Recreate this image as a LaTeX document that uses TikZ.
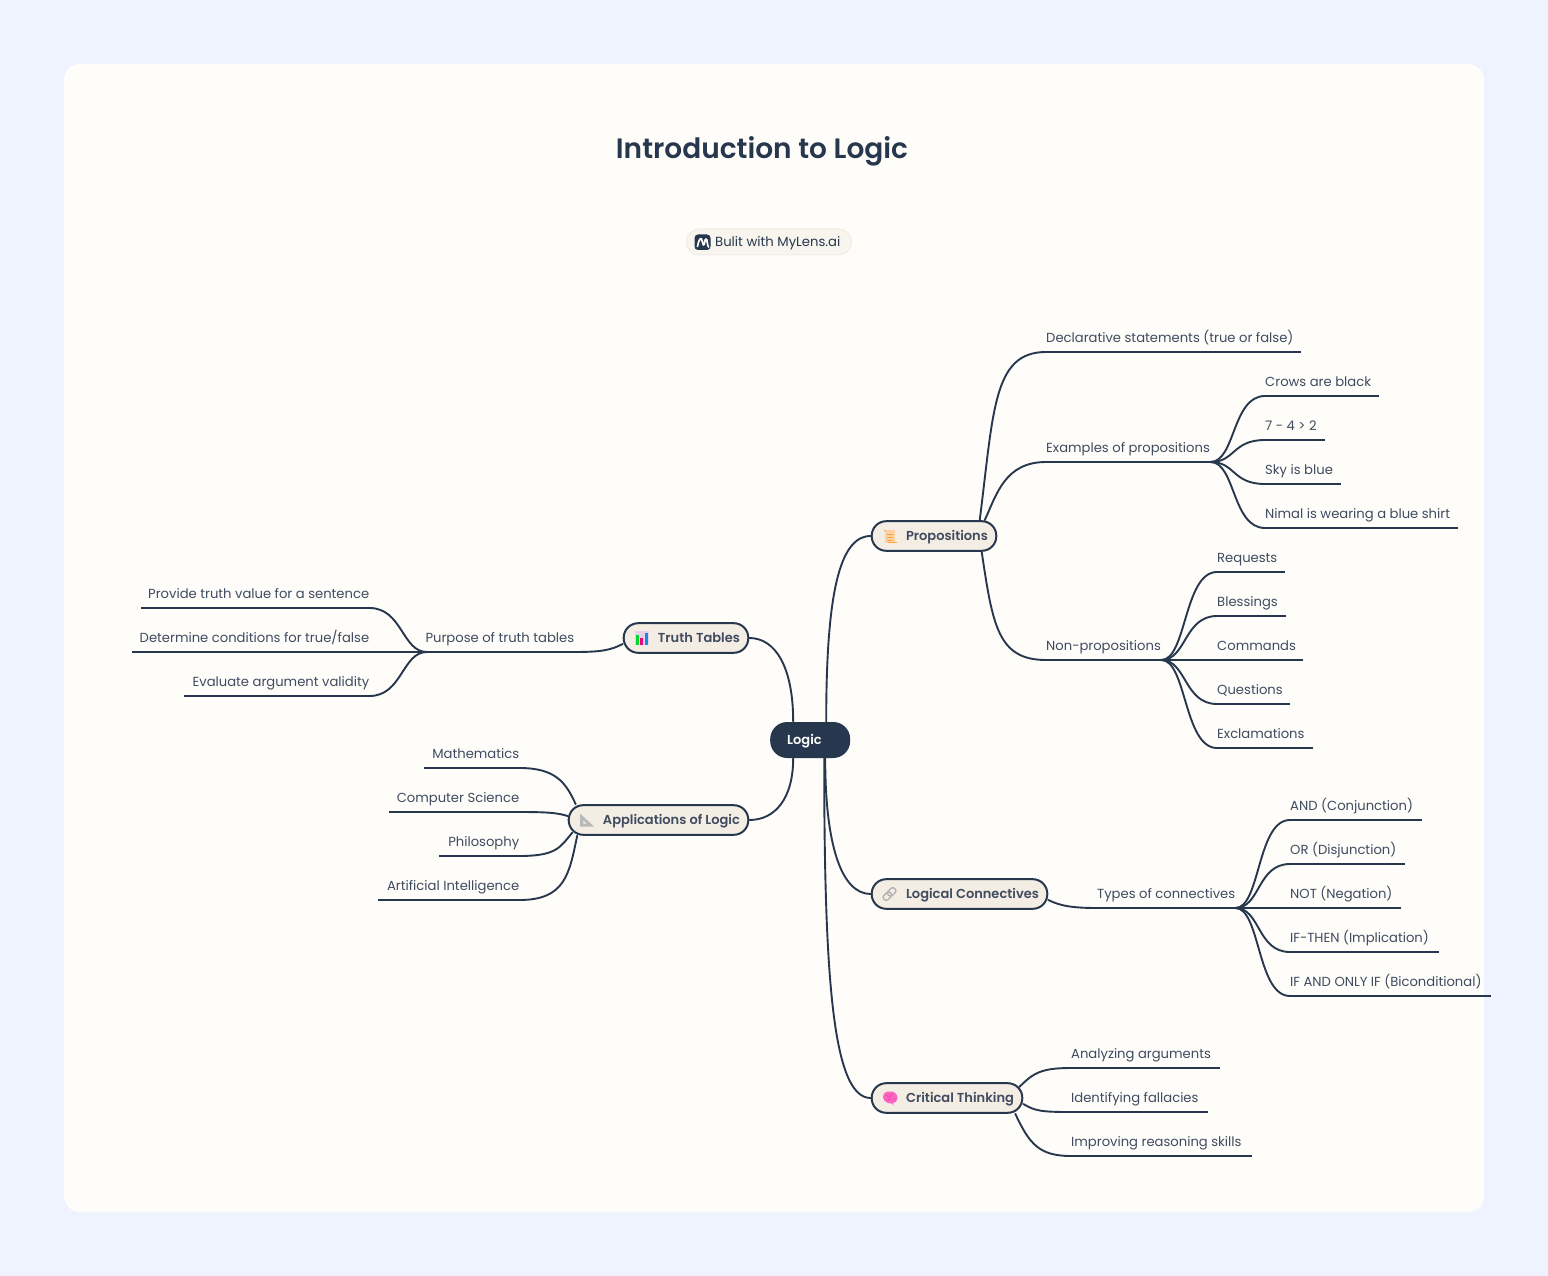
\documentclass[tikz,border=0pt]{standalone}
\usepackage{fontspec}
\setmainfont{Poppins}
\newfontfamily\semif{Poppins SemiBold}
\definecolor{pagebg}{HTML}{EEF3FF}
\definecolor{cardbg}{HTML}{FFFDFA}
\definecolor{ink}{HTML}{27374D}
\definecolor{inksoft}{HTML}{3F4B5F}
\definecolor{pillbg}{HTML}{F4EDE4}
\definecolor{badgebg}{HTML}{F8F4EE}
\definecolor{badgeln}{HTML}{F1ECE4}
\definecolor{brainpink}{HTML}{FF62C0}
\definecolor{brainline}{HTML}{E83FA0}
\tikzset{
  edge/.style={draw=ink,line width=1.9pt,line cap=round},
  rule/.style={draw=ink,line width=2pt,line cap=butt},
  leaf/.style={inner xsep=8pt,inner ysep=7.5pt,text height=11pt,text depth=2pt,font=\fontsize{13.15}{15}\selectfont,text=inksoft},
  branch/.style={draw=ink,line width=2pt,fill=pillbg,rounded corners=14.5pt,minimum height=29.6pt,inner sep=0pt,text height=11.5pt,text depth=2pt,font=\semif\fontsize{13}{15}\selectfont,text=inksoft},
  root/.style={fill=ink,rounded corners=17pt,minimum height=36pt,inner sep=0pt,text height=11.5pt,text depth=2pt,font=\semif\fontsize{13}{15}\selectfont,text=white},
}
\newcommand{\leafR}[5]{% name x0 x1 y text
  \pgfmathsetmacro\lw{#3-#2-16}
  \node[leaf,anchor=south west] (#1) at (#2,#4) {\hbox to \lw pt{#5\hss}};
  \draw[rule] ([xshift=8pt]#1.south west) -- (#1.south east);}
\newcommand{\leafL}[5]{%
  \pgfmathsetmacro\lw{#3-#2-16}
  \node[leaf,anchor=south west] (#1) at (#2,#4) {\hbox to \lw pt{\hss #5}};
  \draw[rule] (#1.south west) -- ([xshift=-8pt]#1.south east);}
\newcommand{\pill}[5]{% name x0 x1 y text
  \pgfmathsetmacro\lw{#3-#2-1.4}
  \pgfmathsetmacro\lx{#2-0.3}
  \node[branch,anchor=west] (#1) at (\lx,#4) {\hbox to \lw pt{\hss #5\kern 8.4pt}};}
\begin{document}
\begin{tikzpicture}[x=1pt,y=-1pt]
\useasboundingbox (0,0) rectangle (1548,1276);
\fill[pagebg] (0,0) rectangle (1548,1276);
\fill[cardbg,rounded corners=16pt] (64,64) rectangle (1484,1212);
\node[font=\semif\fontsize{28}{32}\selectfont,text=ink] (title) at (762,151) {Introduction to Logic};
\node[draw=badgeln,line width=1pt,fill=badgebg,rounded corners=13pt,minimum width=165pt,minimum height=26pt,inner sep=0pt,anchor=west] (badge) at (686,242) {};
\node[anchor=west,inner sep=0pt,font=\fontsize{13.2}{15}\selectfont,text=ink] (badgetext) at (715,243) {Bulit with MyLens.ai};
% logo
\fill[ink,rounded corners=3.5pt] (694.5,234.5) rectangle (710.5,250);
\draw[white,line width=1.7pt,line cap=round,line join=round] (697.5,246.5) .. controls (698.5,240) and (700.5,238) .. (701.5,239) .. controls (703,241) and (702.5,245) .. (703.5,245) .. controls (705,245) and (704.5,239) .. (706,239) .. controls (707.5,239) and (707,245) .. (708.5,247);

\node[root,minimum width=80pt,anchor=west] (logic) at (770,740) {\hbox to 80pt{\hspace{17pt}Logic\hss}};

\pill{props}{871}{997}{536}{Propositions}
\pill{tt}{623}{749}{638}{Truth Tables}
\pill{apps}{568}{749}{820}{Applications of Logic}
\pill{conn}{871}{1048}{894}{Logical Connectives}
\pill{crit}{871}{1023}{1098}{Critical Thinking}

\draw[edge] ([xshift=16pt]logic.north) .. controls +(0,-125) and +(-32,0) .. (props.west);
\draw[edge] ([xshift=15pt]logic.south) .. controls +(0,85) and +(-30,0) .. (conn.west);
\draw[edge] ([xshift=14pt]logic.south) .. controls +(0,220) and +(-38,0) .. (crit.west);
\draw[edge] ([xshift=-17pt]logic.north) .. controls +(0,-55) and +(26,0) .. (tt.east);
\draw[edge] ([xshift=-17pt]logic.south) .. controls +(0,40) and +(26,0) .. (apps.east);

% Propositions
\leafR{decl}{1038}{1301}{352}{Declarative statements (true or false)}
\leafR{exam}{1038}{1217}{462}{Examples of propositions}
\leafR{nonp}{1038}{1169}{660}{Non-propositions}
\draw[edge] ([xshift=109pt]props.north west) .. controls +(14,-110) and +(-53,0) .. ([xshift=8pt]decl.south west);
\draw[edge] ([xshift=114pt]props.north west) .. controls +(12,-26) and +(-41,0) .. ([xshift=8pt]exam.south west);
\draw[edge] ([xshift=111pt]props.south west) .. controls +(11,74) and +(-48,0) .. ([xshift=8pt]nonp.south west);

\leafR{crow}{1257}{1379}{396}{Crows are black}
\leafR{seven}{1257}{1325}{440}{7 - 4 > 2}
\leafR{sky}{1257}{1341}{484}{Sky is blue}
\leafR{nimal}{1257}{1458}{528}{Nimal is wearing a blue shirt}
\foreach \t in {crow,seven,sky,nimal}
  \draw[edge] ([xshift=-7pt]exam.south east) .. controls +(25,0) and +(-33,0) .. ([xshift=8pt]\t.south west);

\leafR{req}{1209}{1285}{572}{Requests}
\leafR{ble}{1209}{1286}{616}{Blessings}
\leafR{com}{1209}{1303}{660}{Commands}
\leafR{que}{1209}{1290}{704}{Questions}
\leafR{exc}{1209}{1313}{748}{Exclamations}
\foreach \t in {req,ble,com,que,exc}
  \draw[edge] ([xshift=-8pt]nonp.south east) .. controls +(25,0) and +(-33,0) .. ([xshift=8pt]\t.south west);

% Logical connectives
\leafR{types}{1089}{1242}{908}{Types of connectives}
\draw[edge] ([yshift=-6pt]conn.east) .. controls +(12,6) and +(-24,0) .. ([xshift=8pt]types.south west);
\leafR{and}{1282}{1422}{820}{AND (Conjunction)}
\leafR{or}{1282}{1405}{864}{OR (Disjunction)}
\leafR{not}{1282}{1401}{908}{NOT (Negation)}
\leafR{ift}{1282}{1439}{952}{IF-THEN (Implication)}
\leafR{iff}{1282}{1491}{996}{IF AND ONLY IF (Biconditional)}
\foreach \t in {and,or,not,ift,iff}
  \draw[edge] ([xshift=-7pt]types.south east) .. controls +(25,0) and +(-33,0) .. ([xshift=8pt]\t.south west);

% Critical thinking
\leafR{ana}{1063}{1220}{1068}{Analyzing arguments}
\leafR{ide}{1063}{1208}{1112}{Identifying fallacies}
\leafR{imp}{1063}{1252}{1156}{Improving reasoning skills}
\draw[edge] ([xshift=-4pt,yshift=11pt]crit.east) .. controls +(14,-14) and +(-30,0) .. ([xshift=8pt]ana.south west);
\draw[edge] ([yshift=-6pt]crit.east) .. controls +(12,7) and +(-30,0) .. ([xshift=8pt]ide.south west);
\draw[edge] ([xshift=-8pt]crit.south east) .. controls +(14,30) and +(-32,0) .. ([xshift=8pt]imp.south west);

% Truth tables
\leafL{purp}{417}{582}{652}{Purpose of truth tables}
\draw[edge] ([yshift=-6pt]tt.west) .. controls +(-12,6) and +(28,0) .. ([xshift=-8pt]purp.south east);
\leafL{prov}{141}{377}{608}{Provide truth value for a sentence}
\leafL{det}{132}{377}{652}{Determine conditions for true/false}
\leafL{eva}{184}{377}{696}{Evaluate argument validity}
\foreach \t in {prov,det,eva}
  \draw[edge] ([xshift=10pt]purp.south west) .. controls +(-25,0) and +(33,0) .. ([xshift=-8pt]\t.south east);

% Applications
\leafL{math}{424}{527}{768}{Mathematics}
\leafL{cs}{389}{527}{812}{Computer Science}
\leafL{phil}{439}{527}{856}{Philosophy}
\leafL{ai}{378}{527}{900}{Artificial Intelligence}
\draw[edge] ([xshift=8pt]apps.north west) .. controls +(-10,-22) and +(36,0) .. ([xshift=-8pt]math.south east);
\draw[edge] ([yshift=4pt]apps.west) .. controls +(-10,-3) and +(30,0) .. ([xshift=-8pt]cs.south east);
\draw[edge] ([xshift=4.5pt,yshift=3pt]apps.south west) .. controls +(-12,14) and +(38,0) .. ([xshift=-8pt]phil.south east);
\draw[edge] ([xshift=9.5pt]apps.south west) .. controls +(-8,38) and +(46,0) .. ([xshift=-8pt]ai.south east);

% icons
% scroll
\fill[orange!35!white] (885,530) rectangle (895,543);
\fill[orange!75!white] (883.5,529.5) rectangle (886,531);
\fill[orange!70!white] (888,541.5) rectangle (897,543);
\draw[orange!75!white,line width=1pt] (887,534.5) -- (893,534.5) (887,537.5) -- (893,537.5) (887,540) -- (892,540);
% chart
\fill[violet!18!white] (635,631) rectangle (648.5,645);
\fill[green!80!cyan!85!black] (636,635) rectangle (639.3,645);
\fill[magenta!90!red] (640,638) rectangle (643.3,645);
\fill[cyan!80!blue] (644.5,632.7) rectangle (648.3,645);
% set square
\fill[gray!55!white,even odd rule] (580,813.5) -- (594,826.5) -- (580,826.5) -- cycle (583,820.5) -- (583,823.5) -- (587,823.5) -- cycle;
% link
\begin{scope}[shift={(889.5,894)},rotate=45]
\draw[gray!60!white,line width=1.4pt,rounded corners=2.5pt] (-7.5,-3) rectangle (1.5,3);
\draw[gray!60!white,line width=1.4pt,rounded corners=2.5pt] (-1.5,-3) rectangle (7.5,3);
\end{scope}
% brain
\fill[brainpink] (883,1097.5) .. controls (882.5,1093) and (887,1091) .. (890,1091.5) .. controls (894,1091) and (897.5,1094) .. (897.5,1098) .. controls (898,1101) and (895,1103) .. (893,1103) -- (893.5,1105) -- (891.5,1103.5) .. controls (888,1103.5) and (884,1102) .. (883,1097.5) -- cycle;
\draw[brainline,line width=0.5pt] (886,1095) -- (889,1097) (892,1094) -- (890,1098) (887,1100) -- (890,1099) (893,1098) -- (895,1100);
\end{tikzpicture}
\end{document}
